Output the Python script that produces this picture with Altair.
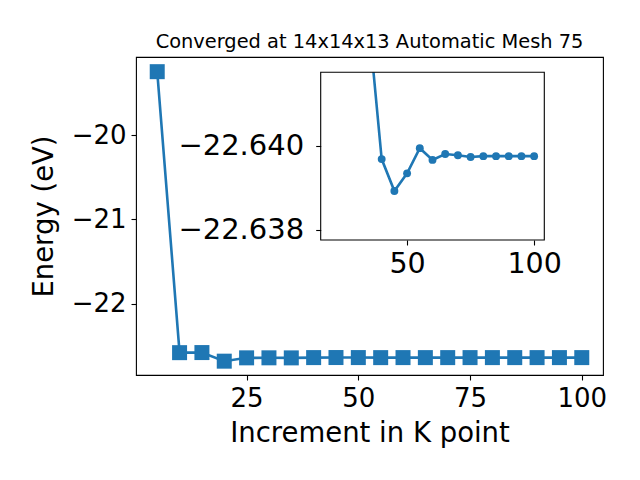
import altair as alt
import pandas as pd

# ---- data ----
kpoints = [5, 10, 15, 20, 25, 30, 35, 40, 45, 50, 55, 60, 65, 70, 75, 80, 85, 90, 95, 100]
energy = [-19.249, -22.581, -22.580, -22.682, -22.6425, -22.6422, -22.6429,
          -22.63968, -22.63892, -22.63934, -22.63994, -22.63966, -22.63980,
          -22.63977, -22.63973, -22.63975, -22.63975, -22.63975, -22.63975, -22.63975]
main_xticks = [25, 50, 75, 100]
main_yticks = [-22, -21, -20]
inset_xticks = [50, 100]
inset_yticks = [-22.640, -22.638]
inset_xlim = [16, 104]
inset_ylim = [-22.64175, -22.63775]   # inverted axis: first value at top
title_text = "Converged at 14x14x13 Automatic Mesh 75"

BLUE = "#1f77b4"
FONT = "DejaVu Sans"

df = pd.DataFrame({"k": kpoints, "E": energy})
frame_df = pd.DataFrame({"x0": [inset_xlim[0]], "x1": [inset_xlim[1]],
                         "y0": [inset_ylim[0]], "y1": [inset_ylim[1]]})

W, H = 467, 318
# inset placement in plot-area pixels
IX0, IX1, IY0, IY1 = 184.7, 408.3, 15.3, 183.0

main = alt.Chart(df).mark_line(
    color=BLUE, strokeWidth=2.6,
    point=alt.OverlayMarkDef(shape="square", size=225, filled=True, color=BLUE, opacity=1),
).encode(
    x=alt.X("k:Q",
            scale=alt.Scale(domain=[0.25, 104.75], nice=False, zero=False),
            axis=alt.Axis(values=main_xticks, title="Increment in K point", grid=False,
                          labelFontSize=26, titleFontSize=27.5, tickSize=5, labelPadding=5,
                          titlePadding=8, domain=False)),
    y=alt.Y("E:Q",
            scale=alt.Scale(domain=[-22.846, -19.075], nice=False, zero=False),
            axis=alt.Axis(values=main_yticks, format="d", title="Energy (eV)", grid=False,
                          labelFontSize=26, titleFontSize=27.5, tickSize=5, labelPadding=5,
                          titlePadding=13, domain=False)),
)

clip_path = alt.ExprRef(expr=f"pathShape('M{IX0},{IY0}H{IX1}V{IY1}H{IX0}Z')")

ixs = alt.Scale(domain=inset_xlim, range=[IX0, IX1], nice=False, zero=False)
iys = alt.Scale(domain=inset_ylim, range=[IY0, IY1], nice=False, zero=False)

inset_base = alt.Chart(df).transform_filter("datum.k >= 20")

inset_line = inset_base.mark_line(color=BLUE, strokeWidth=2.6, clip=clip_path).encode(
    x=alt.X("k:Q", scale=ixs,
            axis=alt.Axis(orient="bottom", offset=IY1 - H, values=inset_xticks, grid=False,
                          title=None, labelFontSize=28.5, tickSize=5, labelPadding=4,
                          domain=False)),
    y=alt.Y("E:Q", scale=iys,
            axis=alt.Axis(orient="left", offset=-IX0, values=inset_yticks, format=".3f",
                          grid=False, title=None, labelFontSize=29, tickSize=5,
                          labelPadding=12, domain=False)),
)
inset_pts = inset_base.mark_circle(color=BLUE, size=62, opacity=1, clip=clip_path).encode(
    x=alt.X("k:Q", scale=ixs), y=alt.Y("E:Q", scale=iys),
)
inset_frame = alt.Chart(frame_df).mark_rect(filled=False, stroke="black", strokeWidth=1.1).encode(
    x=alt.X("x0:Q", scale=ixs), x2="x1:Q",
    y=alt.Y("y0:Q", scale=iys), y2="y1:Q",
)
inset = alt.layer(inset_line, inset_pts, inset_frame)

chart = alt.layer(main, inset).resolve_scale(
    x="independent", y="independent"
).properties(
    width=W, height=H,
    title=alt.Title(title_text, fontSize=19.4, font=FONT, fontWeight="normal",
                    anchor="middle", frame="group", baseline="alphabetic", offset=-10,
                    color="black"),
    autosize=alt.AutoSizeParams(type="none"),
    padding={"left": 128, "top": 49, "right": 21, "bottom": 90},
).configure_view(
    stroke="black", strokeWidth=1.1
).configure_axis(
    labelFont=FONT, titleFont=FONT, titleFontWeight="normal",
    labelColor="black", titleColor="black", tickColor="black", tickWidth=1.1,
    domainColor="black",
)

chart.save("out.html", embed_options={"renderer": "svg", "actions": False})
